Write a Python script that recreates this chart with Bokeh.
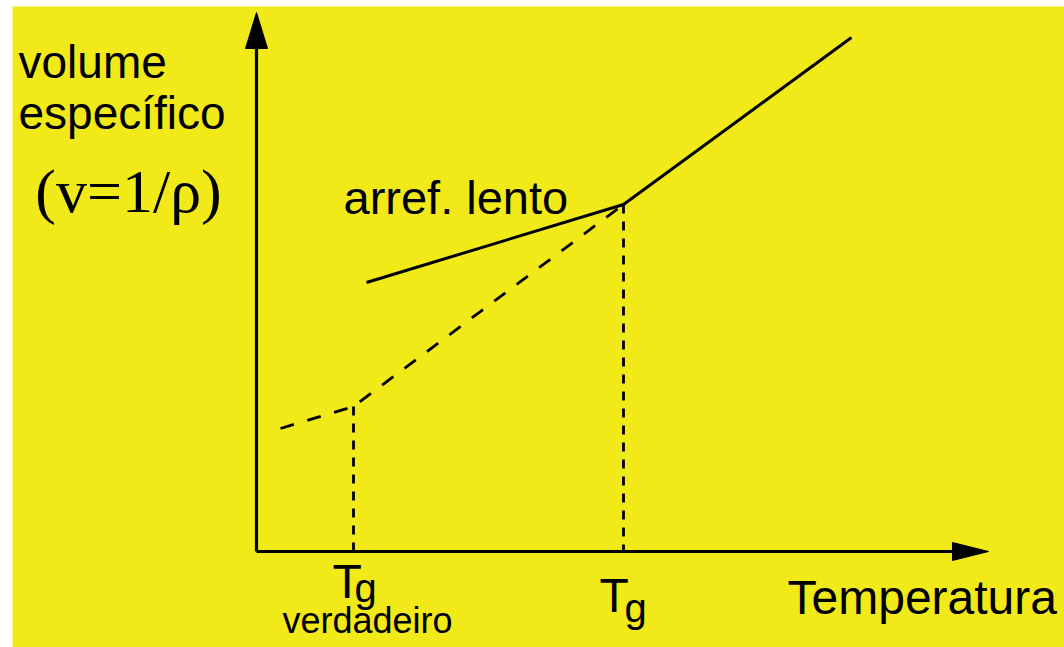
from bokeh.plotting import figure
from bokeh.models import Range1d
from bokeh.core.properties import value
from bokeh.embed import file_html
from bokeh.resources import INLINE

# ---- data (schematic units, origin at the axes' corner) ----
slow_T = [110, 367, 595]          # "arref. lento" curve (solid)
slow_V = [269, 347, 514]
true_T = [24, 97, 367]            # equilibrium curve (dashed)
true_V = [123, 145, 347]
tg_T = [97, 367]                  # Tg verdadeiro, Tg
tg_V = [145, 347]
axis_T_max = 732
axis_V_max = 539

YELLOW = "#F1E918"
SANS = value("Liberation Sans")
SERIF = value("Liberation Serif")

p = figure(width=1064, height=647, output_backend="svg", toolbar_location=None,
           x_range=Range1d(-244, 808), y_range=Range1d(-96, 545),
           min_border_left=12, min_border_right=0, min_border_top=6, min_border_bottom=0)
p.axis.visible = False
p.grid.visible = False
p.outline_line_color = None
p.background_fill_color = YELLOW
p.border_fill_color = "white"

# axes with arrow heads
head_len, head_w_y, head_w_x = 36, 11, 9
p.line([0, 0], [0, axis_V_max - head_len + 2], line_color="black", line_width=3.2)
p.line([0, axis_T_max - head_len + 2], [0, 0], line_color="black", line_width=3)
p.patch([-head_w_y, 0, head_w_y], [axis_V_max - head_len, axis_V_max, axis_V_max - head_len],
        color="black")
p.patch([axis_T_max - head_len, axis_T_max, axis_T_max - head_len], [head_w_x, 0, -head_w_x],
        color="black")

# curves
p.line(slow_T, slow_V, line_color="black", line_width=3)
p.line(true_T, true_V, line_color="black", line_width=2.8, line_dash="14 14")

# Tg drop lines
for t, v in zip(tg_T, tg_V):
    p.line([t, t], [v, 0], line_color="black", line_width=2.8, line_dash="9 8")

# labels
p.text(x=[-238, -238], y=[490, 439], text=["volume", "específico"],
       text_font=SANS, text_font_size="46px", text_baseline="alphabetic", text_color="black")
p.text(x=[-128], y=[361], text=["(v=1/ρ)"], text_font=SERIF, text_font_size="62px",
       text_baseline="alphabetic", text_align="center", text_color="black")
p.text(x=[87], y=[354], text=["arref. lento"], text_font=SANS, text_font_size="47px",
       text_baseline="alphabetic", text_color="black")
p.text(x=[531], y=[-46], text=["Temperatura"], text_font=SANS, text_font_size="48px",
       text_baseline="alphabetic", text_color="black")
# T_g labels
p.text(x=[tg_T[0] - 21, tg_T[1] - 24], y=[-30, -44], text=["T", "T"], text_font=SANS,
       text_font_size="48px", text_baseline="alphabetic", text_color="black")
p.text(x=[tg_T[0] + 1, tg_T[1] + 1], y=[-36, -56], text=["g", "g"], text_font=SANS,
       text_font_size="40px", text_baseline="alphabetic", text_color="black")
p.text(x=[26], y=[-69], text=["verdadeiro"], text_font=SANS, text_font_size="36px",
       text_baseline="alphabetic", text_color="black")

open("out.html", "w").write(file_html(p, INLINE))
